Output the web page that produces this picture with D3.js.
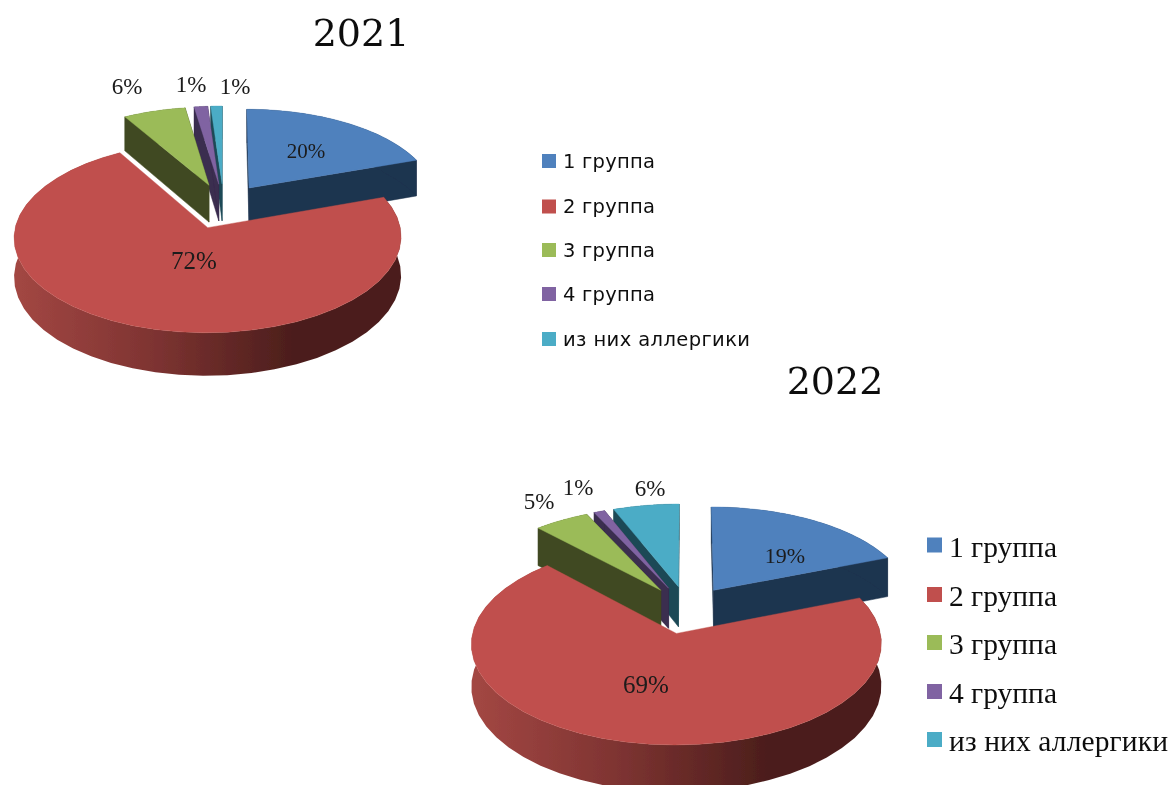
<!DOCTYPE html>
<html><head><meta charset="utf-8">
<script src="https://cdn.jsdelivr.net/npm/d3@7/dist/d3.min.js"></script>
<style>html,body{margin:0;padding:0;background:#fff;overflow:hidden}svg{display:block}</style>
</head><body><svg id="c" width="1172" height="785"></svg>
<script>
const categories = ["1 группа","2 группа","3 группа","4 группа","из них аллергики"];
const values2021 = [19.6,72,6,1.3,1.1];
const values2022 = [19,69,5,1,6];
const labels2021 = ["20%","72%","6%","1%","1%"];
const labels2022 = ["19%","69%","5%","1%","6%"];
const topColors = ["#4F81BD","#C0504D","#9BBB59","#8064A2","#4BACC6"];
const wallColors = ["#1F344F","#6d2c2a","#404A21","#3A2D4F","#1D4A56"];

const layouts = [
 {year:"2021", values:values2021, labels:labels2021, cx:223.6, cy:206, rx:188, ry:90, k:0.1, ex:0.239, ey:0.25, depth:37.7,
  title:[361,33],
  labelPos:[[306,151],[194,260],[127,86],[191,84],[235,86]], labelSize:[21,25,23,23,23], labelFont:"'Liberation Serif',serif",
  legend:{x:542,size:14,textX:563,ys:[161,206.5,250,294,339],dy:6.5,font:"'DejaVu Sans',sans-serif",fs:19.5,widths:[92,92,92,92,187]}},
 {year:"2022", values:values2022, labels:labels2022, cx:687.2, cy:609.6, rx:199, ry:95.3, k:0.1, ex:0.241, ey:0.25, depth:41,
  title:[835,381],
  labelPos:[[785,555],[646,684],[539,501],[578,487],[650,488]], labelSize:[22,25,23,23,23], labelFont:"'Liberation Serif',serif",
  legend:{x:927,size:15,textX:949,ys:[545,594.5,642.5,691.5,739.5],dy:11.7,font:"'Liberation Serif',serif",fs:29.5,widths:[108,108,108,108,219]}}
];

const svg = d3.select("#c");
const defs = svg.append("defs");
defs.append("filter").attr("id","soft").attr("x","-5%").attr("y","-5%").attr("width","110%").attr("height","110%")
  .append("feGaussianBlur").attr("stdDeviation",0.55);
const grad = defs.append("linearGradient").attr("id","redWall");
[[0,"#A34743"],[0.35,"#7F3432"],[0.72,"#4C1E1C"],[1,"#4C1E1C"]]
  .forEach(([o,c])=>grad.append("stop").attr("offset",o).attr("stop-color",c));

const root = svg.append("g").attr("filter","url(#soft)");
const lineGen = d3.line();
const pieGen = d3.pie().sort(null).value(d=>d);

layouts.forEach(L=>{
  const g = root.append("g");
  const project = (u,v,z=0)=>{
    const s = 1/(1+L.k*v);
    return [L.cx+L.rx*u*s, L.cy-L.ry*v*s+z*L.depth*s];
  };
  const arcs = pieGen(L.values);
  const drawOrder = [0,4,3,2,1];
  drawOrder.forEach(i=>{
    const a = arcs[i], mid=(a.startAngle+a.endAngle)/2;
    const ou=L.ex*Math.sin(mid), ov=L.ey*Math.cos(mid);
    const pt=(t,r,z)=>project(ou+r*Math.sin(t),ov+r*Math.cos(t),z);
    const ts=d3.range(0,41).map(n=>a.startAngle+(a.endAngle-a.startAngle)*n/40);
    const wall=(i===1)?"url(#redWall)":wallColors[i];
    [a.startAngle,a.endAngle].forEach(t=>{
      if(i===1) return;
      g.append("path").attr("fill",wallColors[i]).attr("stroke",wallColors[i]).attr("stroke-width",0.5)
       .attr("d",lineGen([pt(t,0,0),pt(t,1,0),pt(t,1,1),pt(t,0,1)])+"Z");
    });
    g.append("path").attr("fill",wall)
     .attr("d",lineGen([...ts.map(t=>pt(t,1,0)),...ts.slice().reverse().map(t=>pt(t,1,1))])+"Z");
    g.append("path").attr("fill",topColors[i]).attr("stroke",topColors[i]).attr("stroke-width",0.4)
     .attr("d",lineGen([pt(0,0,0),...ts.map(t=>pt(t,1,0))])+"Z");
  });
  L.labels.forEach((t,i)=>{
    g.append("text").attr("x",L.labelPos[i][0]).attr("y",L.labelPos[i][1])
     .attr("text-anchor","middle").attr("dominant-baseline","central")
     .attr("font-family",L.labelFont).attr("font-size",L.labelSize[i]).attr("fill","#1a1a1a").text(t);
  });
  g.append("text").attr("x",L.title[0]).attr("y",L.title[1]).attr("text-anchor","middle").attr("dominant-baseline","central")
   .attr("font-family","'DejaVu Serif',serif").attr("font-size",38).attr("fill","#111").text(L.year);
  categories.forEach((c,i)=>{
    g.append("rect").attr("x",L.legend.x).attr("y",L.legend.ys[i]-L.legend.size/2)
     .attr("width",L.legend.size).attr("height",L.legend.size).attr("fill",topColors[i]);
    g.append("text").attr("x",L.legend.textX).attr("y",L.legend.ys[i]+L.legend.dy)
     .attr("textLength",L.legend.widths[i]).attr("lengthAdjust","spacing")
     .attr("font-family",L.legend.font).attr("font-size",L.legend.fs).attr("fill","#111").text(c);
  });
});
</script></body></html>
